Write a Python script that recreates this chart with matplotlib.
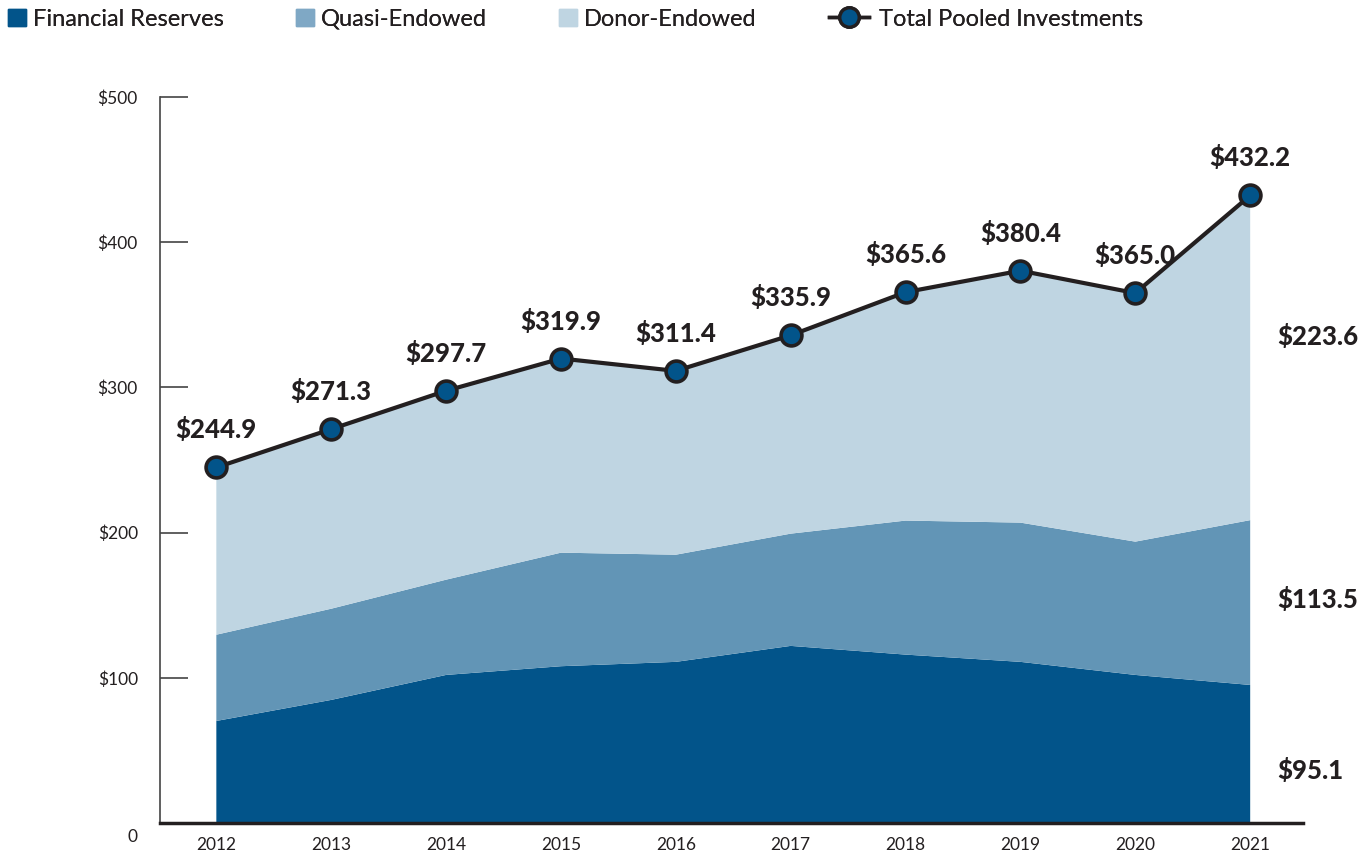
import matplotlib.pyplot as plt
from matplotlib.patches import Patch
from matplotlib.lines import Line2D
import matplotlib.transforms as mtrans

plt.rcParams['font.family'] = ['Lato', 'DejaVu Sans']

years = ['2012', '2013', '2014', '2015', '2016', '2017', '2018', '2019', '2020', '2021']
financial = [70.3, 84.8, 102.0, 108.0, 111.0, 122.0, 116.0, 111.0, 102.0, 95.1]
quasi = [59.4, 62.8, 65.6, 78.2, 73.8, 77.3, 92.3, 95.9, 91.8, 113.5]
total = [244.9, 271.3, 297.7, 319.9, 311.4, 335.9, 365.6, 380.4, 365.0, 432.2]
donor = [t - f - q for t, f, q in zip(total, financial, quasi)]
total_labels = ['$244.9', '$271.3', '$297.7', '$319.9', '$311.4', '$335.9',
                '$365.6', '$380.4', '$365.0', '$432.2']
end_labels = ['$223.6', '$113.5', '$95.1']
end_label_y = [335, 154, 36]

c_fin = '#02548a'
c_quasi = '#6295b6'
c_donor = '#bfd5e2'
c_line = '#231f20'

fig = plt.figure(figsize=(13.68, 8.61), dpi=100)
ax = fig.add_axes([0.117, 0.0441, 0.8355, 0.8432])

x = list(range(len(years)))
ax.stackplot(x, financial, quasi, donor, colors=[c_fin, c_quasi, c_donor], linewidth=0)
ax.plot(x, total, color=c_line, lw=3, marker='o', ms=15, mfc=c_fin, mec=c_line, mew=2.6,
        zorder=5, clip_on=False)

for xi, v, lab in zip(x, total, total_labels):
    ax.annotate(lab, (xi, v), xytext=(0, 18), textcoords='offset points', ha='center',
                va='bottom', fontsize=18.5, fontweight='black', color=c_line)

for lab, yv in zip(end_labels, end_label_y):
    ax.text(9.24, yv, lab, ha='left', va='center', fontsize=18.5, fontweight='black', color=c_line)

ax.set_xlim(-0.49, 9.46)
ax.set_ylim(0, 500)
ax.set_xticks(x)
ax.set_xticklabels(years, fontsize=12.5, color=c_line)
ax.tick_params(axis='x', length=0, pad=10)
ax.set_yticks([0, 100, 200, 300, 400, 500])
ax.set_yticklabels(['0', '$100', '$200', '$300', '$400', '$500'], fontsize=12.5, color=c_line)
ax.tick_params(axis='y', direction='in', length=20, width=1.2, color='#444444', pad=16)
lab0 = ax.get_yticklabels()[0]
lab0.set_transform(lab0.get_transform() + mtrans.ScaledTranslation(0, -12 / 100, fig.dpi_scale_trans))

for s in ['top', 'right']:
    ax.spines[s].set_visible(False)
ax.spines['left'].set_color('#444444')
ax.spines['left'].set_linewidth(1.2)
ax.spines['bottom'].set_color(c_line)
ax.spines['bottom'].set_linewidth(2.5)

# legend entries placed one by one to match the spacing
handles = [Patch(color=c_fin), Patch(color='#7fa8c5'), Patch(color=c_donor),
           Line2D([0], [0], color=c_line, lw=2.5, marker='o', ms=14, mfc=c_fin, mec=c_line, mew=2.4)]
names = ['Financial Reserves', 'Quasi-Endowed', 'Donor-Endowed', 'Total Pooled Investments']
leg_x = [8, 296, 559, 829]
for h, n, lx in zip(handles, names, leg_x):
    is_line = isinstance(h, Line2D)
    leg = fig.legend([h], [n], loc='center left', bbox_to_anchor=(lx / 1368, 1 - 19 / 861),
                     frameon=False, fontsize=17, borderpad=0, borderaxespad=0,
                     handlelength=1.7 if is_line else 0.76, handleheight=0.76,
                     handletextpad=0.4 if is_line else 0.3, labelcolor=c_line)
    fig.add_artist(leg)

fig.savefig('out.png', dpi=100)
